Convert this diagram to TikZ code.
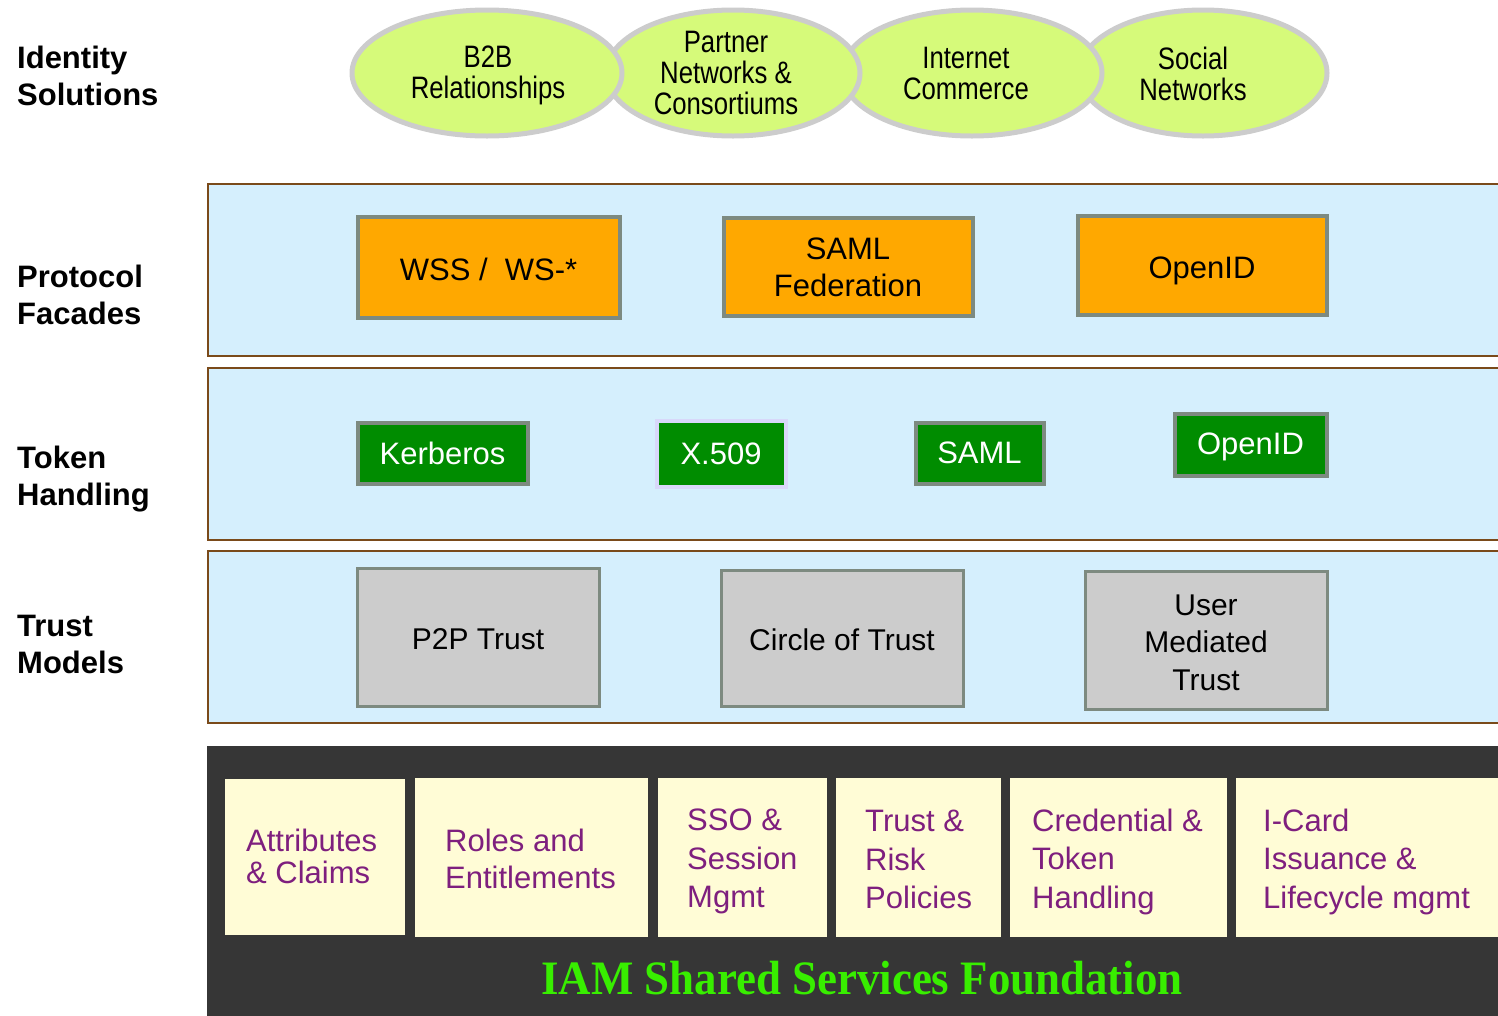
\documentclass[tikz,border=0pt]{standalone}
\usepackage{fontspec}
\setmainfont{Liberation Sans}
\newfontfamily\narrowf[FakeStretch=0.83]{Liberation Sans}
\newfontfamily\titlef[FakeStretch=0.935]{Liberation Serif}
\usetikzlibrary{shapes.geometric}
\definecolor{ellfill}{RGB}{214,250,122}
\definecolor{ellline}{RGB}{204,204,204}
\definecolor{panelfill}{RGB}{213,239,253}
\definecolor{panelline}{RGB}{122,74,26}
\definecolor{orangefill}{RGB}{255,168,0}
\definecolor{boxline}{RGB}{125,138,128}
\definecolor{greenfill}{RGB}{0,140,0}
\definecolor{grayfill}{RGB}{204,204,204}
\definecolor{darkband}{RGB}{54,54,54}
\definecolor{yellowfill}{RGB}{255,252,214}
\definecolor{purpletext}{RGB}{126,31,126}
\definecolor{titlegreen}{RGB}{56,238,0}
\definecolor{lavender}{RGB}{216,216,250}
\tikzset{
  layerlabel/.style={anchor=north west, align=left, inner sep=0pt, font=\fontsize{31}{37}\selectfont\bfseries},
  solution/.style={ellipse, draw=ellline, line width=5pt, fill=ellfill, inner sep=0pt},
  soltext/.style={align=center, inner sep=0pt, font=\narrowf\fontsize{31}{31}\selectfont},
  panel/.style={draw=panelline, line width=2pt, fill=panelfill, inner sep=0pt},
  facade/.style={draw=boxline, line width=4pt, fill=orangefill, inner sep=0pt},
  tokenbox/.style={draw=boxline, line width=4pt, fill=greenfill, inner sep=0pt},
  trustbox/.style={draw=boxline, line width=3pt, fill=grayfill, inner sep=0pt},
  boxtext/.style={align=center, inner sep=0pt, font=\fontsize{31}{37}\selectfont},
  servicebox/.style={fill=yellowfill, draw=none, inner sep=0pt},
  servicetext/.style={anchor=west, align=left, inner sep=0pt, text=purpletext},
}
\begin{document}
\begin{tikzpicture}[x=1pt,y=-1pt]
\clip (0,0) rectangle (1498,1015);
\fill[white] (0,0) rectangle (1498,1015);

% left labels
\node[layerlabel] (lab1) at (17,46) {Identity\\Solutions};
\node[layerlabel] (lab2) at (17,265) {Protocol\\Facades};
\node[layerlabel] (lab3) at (17,446) {Token\\Handling};
\node[layerlabel] (lab4) at (17,615) {Trust\\Models};

% identity solutions (drawn right to left so the left one lies on top)
\node[solution, minimum width=248pt, minimum height=126pt] (social) at (1203,73) {};
\node[solution, minimum width=260pt, minimum height=126pt] (internet) at (972,73) {};
\node[solution, minimum width=254pt, minimum height=126pt] (partner) at (733,73) {};
\node[solution, minimum width=270pt, minimum height=126pt] (b2b) at (487,73) {};
\node[soltext] (b2bt) at ([xshift=1pt, yshift=-2pt]b2b.center) {B2B\\Relationships};
\node[soltext] (partnert) at ([xshift=-7pt]partner.center) {Partner\\Networks \&\\Consortiums};
\node[soltext] (internett) at ([xshift=-6pt]internet.center) {Internet\\Commerce};
\node[soltext] (socialt) at ([xshift=-10pt, yshift=-1pt]social.center) {Social\\Networks};

% panels
\node[panel, minimum width=1320pt, minimum height=172pt, anchor=north west] (protopanel) at (207,183) {};
\node[panel, minimum width=1320pt, minimum height=172pt, anchor=north west] (tokenpanel) at (207,367) {};
\node[panel, minimum width=1320pt, minimum height=172pt, anchor=north west] (trustpanel) at (207,550) {};

% protocol facades
\node[facade, minimum width=262pt, minimum height=101pt] (wss) at (488.5,267) {};
\node[facade, minimum width=249pt, minimum height=98pt] (samlfed) at (848,266.5) {};
\node[facade, minimum width=249pt, minimum height=99pt] (openidf) at (1202,265) {};
\node[boxtext] (wsst) at ([yshift=-2pt]wss.center) {WSS /\ \ WS-*};
\node[boxtext] (samlfedt) at ([yshift=-1pt]samlfed.center) {SAML\\Federation};
\node[boxtext] (openidft) at ([yshift=-6pt]openidf.center) {OpenID};

% token handling
\node[tokenbox, minimum width=170pt, minimum height=61pt] (kerb) at (442.5,453) {};
\node[tokenbox, draw=lavender, minimum width=129pt, minimum height=66pt] (x509) at (721,453.5) {};
\node[tokenbox, minimum width=128pt, minimum height=61pt] (saml) at (979.5,453) {};
\node[tokenbox, minimum width=152pt, minimum height=62pt] (openidt) at (1250.5,444.5) {};
\node[boxtext, text=white] (kerbt) at (kerb.center) {Kerberos};
\node[boxtext, text=white] (x509t) at (x509.center) {X.509};
\node[boxtext, text=white] (samlt) at (saml.center) {SAML};
\node[boxtext, text=white] (openidtt) at ([yshift=-2pt]openidt.center) {OpenID};

% trust models
\node[trustbox, minimum width=242pt, minimum height=138pt] (p2p) at (478,637) {};
\node[trustbox, minimum width=242pt, minimum height=136pt] (cot) at (842,638) {};
\node[trustbox, minimum width=242pt, minimum height=138pt] (umt) at (1206,640) {};
\node[boxtext, font=\fontsize{30}{37.5}\selectfont] (p2pt) at ([yshift=-2pt]p2p.center) {P2P Trust};
\node[boxtext, font=\fontsize{30}{37.5}\selectfont] (cott) at ([yshift=-2pt]cot.center) {Circle of Trust};
\node[boxtext, font=\fontsize{30}{37.5}\selectfont] (umtt) at ([yshift=-2.5pt]umt.center) {User\\Mediated\\Trust};

% foundation
\node[fill=darkband, inner sep=0pt, minimum width=1320pt, minimum height=280pt, anchor=north west] (band) at (207,746) {};
\node[servicebox, minimum width=180pt, minimum height=156pt, anchor=north west] (s1) at (225,779) {};
\node[servicebox, minimum width=233pt, minimum height=159pt, anchor=north west] (s2) at (415,778) {};
\node[servicebox, minimum width=169pt, minimum height=159pt, anchor=north west] (s3) at (658,778) {};
\node[servicebox, minimum width=165pt, minimum height=159pt, anchor=north west] (s4) at (836,778) {};
\node[servicebox, minimum width=217pt, minimum height=159pt, anchor=north west] (s5) at (1010,778) {};
\node[servicebox, minimum width=280pt, minimum height=159pt, anchor=north west] (s6) at (1236,778) {};

\node[servicetext, font=\fontsize{31}{32}\selectfont] (t1) at ([xshift=21pt, yshift=1pt]s1.west) {Attributes\\\& Claims};
\node[servicetext, font=\fontsize{31}{37}\selectfont] (t2) at ([xshift=30pt, yshift=-1pt]s2.west) {Roles and\\Entitlements};
\node[servicetext, font=\fontsize{31}{38.5}\selectfont] (t3) at ([xshift=29pt, yshift=-4pt]s3.west) {SSO \&\\Session\\Mgmt};
\node[servicetext, font=\fontsize{31}{38.5}\selectfont] (t4) at ([xshift=29pt, yshift=-2pt]s4.west) {Trust \&\\Risk\\Policies};
\node[servicetext, font=\fontsize{31}{38.5}\selectfont] (t5) at ([xshift=22pt, yshift=-4pt]s5.west) {Credential \&\\Token\\Handling};
\node[servicetext, font=\fontsize{31}{38.5}\selectfont] (t6) at ([xshift=27pt, yshift=-4pt]s6.west) {I-Card\\Issuance \&\\Lifecycle mgmt};

\node[text=titlegreen, inner sep=0pt, font=\titlef\bfseries\fontsize{48}{48}\selectfont] (title) at (862,978) {IAM Shared Services Foundation};
\end{tikzpicture}
\end{document}
